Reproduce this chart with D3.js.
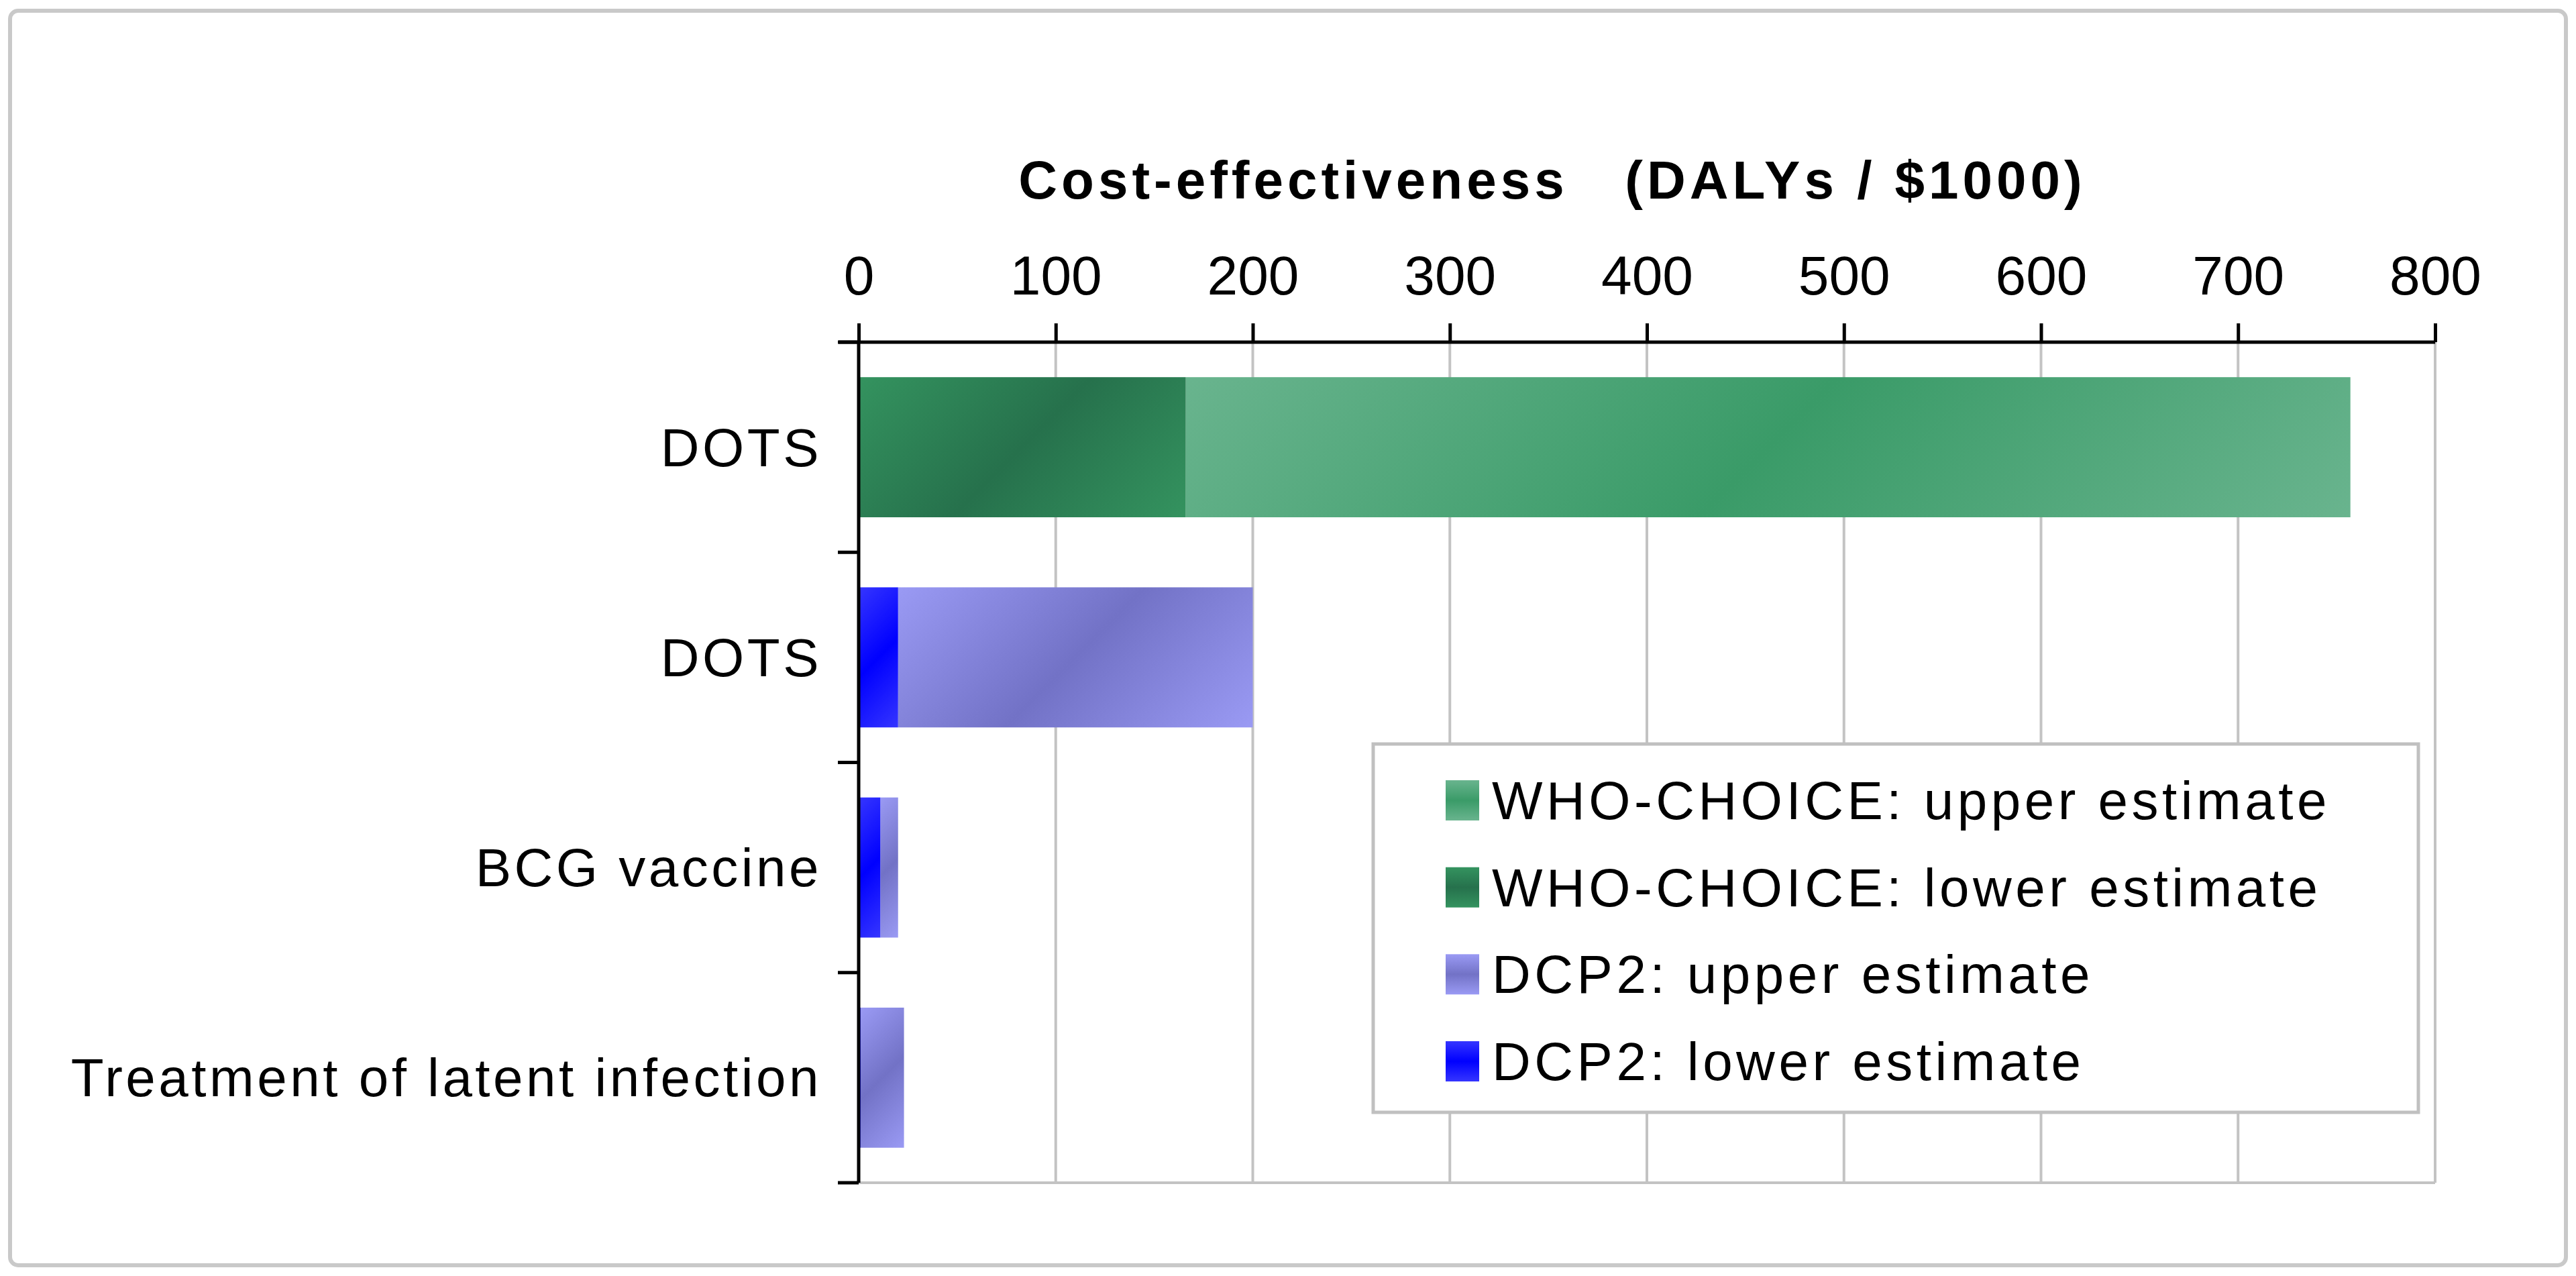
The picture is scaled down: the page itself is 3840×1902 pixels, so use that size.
<!DOCTYPE html>
<html>
<head>
<meta charset="utf-8">
<script src="https://cdn.jsdelivr.net/npm/d3@7"></script>
<style>
  html, body { margin: 0; padding: 0; background: #ffffff; }
  svg { display: block; }
  text { font-family: "Liberation Sans", Arial, sans-serif; fill: #000; }
</style>
</head>
<body>
<svg id="chart" width="3840" height="1902"></svg>
<script>
// ---- data ----
const categories = ["DOTS", "DOTS", "BCG vaccine", "Treatment of latent infection"];
const sourceOf = ["WHO", "DCP2", "DCP2", "DCP2"];
const lowerEstimate = [166, 20, 11, 1];
const upperEstimate = [757, 200, 20, 23];
const xTicks = [0, 100, 200, 300, 400, 500, 600, 700, 800];
const legendLabels = ["WHO-CHOICE: upper estimate", "WHO-CHOICE: lower estimate", "DCP2: upper estimate", "DCP2: lower estimate"];
const legendKeys = ["whoUpper", "whoLower", "dcpUpper", "dcpLower"];
const titleText = "Cost-effectiveness   (DALYs / $1000)";

// ---- styles ----
const palette = {
  whoUpper: { edge: "#69b48e", mid: "#3a9b68" },
  whoLower: { edge: "#34935f", mid: "#26714c" },
  dcpUpper: { edge: "#9a9af4", mid: "#7272c6" },
  dcpLower: { edge: "#3535ff", mid: "#0000ff" }
};

const svg = d3.select("#chart");
const W = 3840, H = 1902;
const plot = { left: 1280, right: 3630, top: 510, bottom: 1763 };

// outer border
svg.append("rect")
  .attr("x", 15).attr("y", 16).attr("width", W - 30).attr("height", H - 32)
  .attr("rx", 12).attr("fill", "#fff")
  .attr("stroke", "#c9c9c9").attr("stroke-width", 6);

const x = d3.scaleLinear().domain([0, 800]).range([plot.left, plot.right]);
const idx = categories.map((d, i) => i);
const yOuter = d3.scaleBand().domain(idx).range([plot.top, plot.bottom]);
const y = d3.scaleBand().domain(idx).range([plot.top, plot.bottom])
  .paddingInner(1 / 3).paddingOuter(1 / 6);

const defs = svg.append("defs");

// gridlines
svg.append("g").selectAll("line")
  .data(xTicks.filter(t => t > 0))
  .join("line")
  .attr("x1", d => x(d)).attr("x2", d => x(d))
  .attr("y1", plot.top).attr("y2", plot.bottom)
  .attr("stroke", "#c3c3c3").attr("stroke-width", 4);
svg.append("line")
  .attr("x1", x(0)).attr("x2", x(800))
  .attr("y1", plot.bottom).attr("y2", plot.bottom)
  .attr("stroke", "#c3c3c3").attr("stroke-width", 4);

// gradient per bar segment (diagonal, light edges, darker middle)
let gid = 0;
function diagGradient(key, x0, x1, y0, y1) {
  const id = "g" + (gid++);
  const cx = (x0 + x1) / 2, cy = (y0 + y1) / 2;
  const w = x1 - x0, h = y1 - y0;
  const d = (w + h) / 4;
  const g = defs.append("linearGradient").attr("id", id)
    .attr("gradientUnits", "userSpaceOnUse")
    .attr("x1", cx - d).attr("y1", cy - d).attr("x2", cx + d).attr("y2", cy + d);
  g.append("stop").attr("offset", 0).attr("stop-color", palette[key].edge);
  g.append("stop").attr("offset", 0.5).attr("stop-color", palette[key].mid);
  g.append("stop").attr("offset", 1).attr("stop-color", palette[key].edge);
  return "url(#" + id + ")";
}

// segments
const segs = [];
idx.forEach(i => {
  const pre = sourceOf[i] === "WHO" ? "who" : "dcp";
  segs.push({ i, key: pre + "Upper", from: lowerEstimate[i], to: upperEstimate[i] });
  segs.push({ i, key: pre + "Lower", from: 0, to: lowerEstimate[i] });
});

svg.append("g").selectAll("rect")
  .data(segs)
  .join("rect")
  .attr("x", d => x(d.from))
  .attr("y", d => y(d.i))
  .attr("width", d => Math.max(0, x(d.to) - x(d.from)))
  .attr("height", y.bandwidth())
  .attr("fill", d => diagGradient(d.key, x(d.from), x(d.to), y(d.i), y(d.i) + y.bandwidth()));

// x axis on top
const xAxis = d3.axisTop(x).tickValues(xTicks).tickSize(28).tickPadding(43).tickSizeOuter(0);
const gx = svg.append("g").attr("transform", `translate(0,${plot.top})`).call(xAxis);
gx.select(".domain").attr("stroke", "#000").attr("stroke-width", 5)
  .attr("d", `M${plot.left - 30},0H${plot.right}`);
gx.selectAll(".tick line").attr("stroke", "#000").attr("stroke-width", 5);
gx.selectAll(".tick text")
  .attr("font-family", "Liberation Sans, Arial, sans-serif")
  .attr("font-size", 82).attr("fill", "#000");

// y axis: line, ticks at band boundaries, labels
svg.append("line")
  .attr("x1", plot.left).attr("x2", plot.left)
  .attr("y1", plot.top).attr("y2", plot.bottom)
  .attr("stroke", "#000").attr("stroke-width", 5);
const boundaries = idx.map(i => yOuter(i)).concat([yOuter(idx.length - 1) + yOuter.bandwidth()]);
svg.append("g").selectAll("line")
  .data(boundaries)
  .join("line")
  .attr("x1", plot.left - 31).attr("x2", plot.left)
  .attr("y1", d => d).attr("y2", d => d)
  .attr("stroke", "#000").attr("stroke-width", 5);
svg.append("g").selectAll("text")
  .data(idx)
  .join("text")
  .attr("x", plot.left - 55)
  .attr("y", i => yOuter(i) + yOuter.bandwidth() / 2)
  .attr("dy", "0.35em")
  .attr("text-anchor", "end")
  .attr("font-size", 80)
  .attr("letter-spacing", 4.5)
  .text(i => categories[i]);

// title
svg.append("text")
  .attr("x", 2314).attr("y", 296)
  .attr("text-anchor", "middle")
  .attr("font-size", 80).attr("font-weight", "bold")
  .attr("letter-spacing", 6)
  .style("white-space", "pre")
  .attr("xml:space", "preserve")
  .text(titleText);

// legend
const lg = svg.append("g");
lg.append("rect")
  .attr("x", 2047).attr("y", 1109).attr("width", 1558).attr("height", 549)
  .attr("fill", "#fff").attr("stroke", "#c0c0c0").attr("stroke-width", 5);
const legendY = d3.scalePoint().domain(legendKeys).range([1193, 1582]);
legendKeys.forEach((k, j) => {
  const id = "lg" + j;
  const g = defs.append("linearGradient").attr("id", id)
    .attr("x1", 0).attr("y1", 0).attr("x2", 0).attr("y2", 1);
  g.append("stop").attr("offset", 0).attr("stop-color", palette[k].edge);
  g.append("stop").attr("offset", 0.5).attr("stop-color", palette[k].mid);
  g.append("stop").attr("offset", 1).attr("stop-color", palette[k].edge);
  lg.append("rect")
    .attr("x", 2155).attr("y", legendY(k) - 30).attr("width", 50).attr("height", 60)
    .attr("fill", `url(#${id})`);
  lg.append("text")
    .attr("x", 2224).attr("y", legendY(k)).attr("dy", "0.35em")
    .attr("font-size", 80).attr("letter-spacing", 5.5)
    .text(legendLabels[j]);
});
</script>
</body>
</html>
